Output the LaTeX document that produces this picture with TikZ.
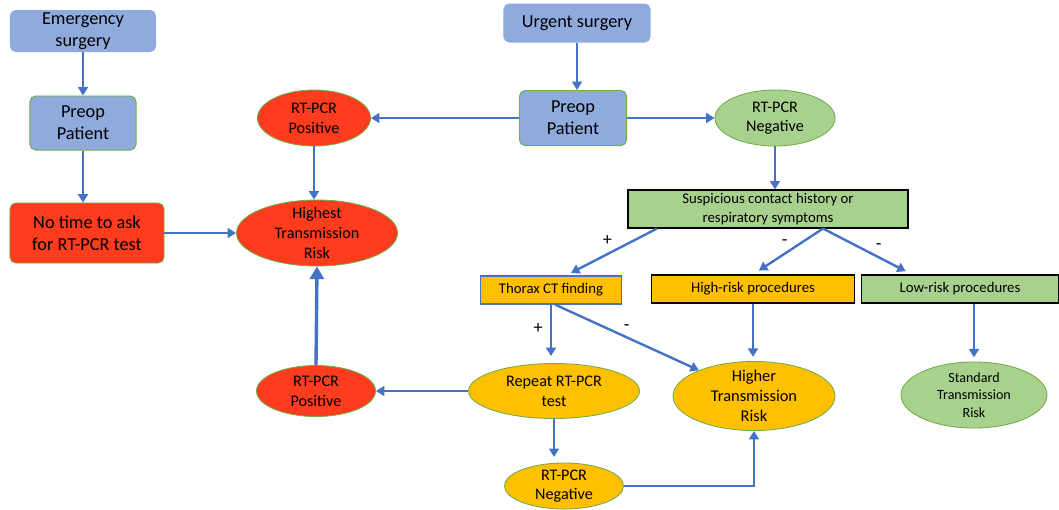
\documentclass[tikz,border=0pt]{standalone}
\usepackage{fontspec}
\setmainfont{Carlito}
\usetikzlibrary{arrows.meta, shapes.geometric, calc}

\definecolor{boxblue}{HTML}{8FAADC}
\definecolor{riskred}{HTML}{FF3C1E}
\definecolor{okgreen}{HTML}{A9D18E}
\definecolor{midorange}{HTML}{FFC000}
\definecolor{edgegreen}{HTML}{70AD47}
\definecolor{linkblue}{HTML}{4472C4}

\newcommand{\fontL}{\fontsize{13}{15.5}\selectfont}
\newcommand{\fontM}{\fontsize{11.5}{14}\selectfont}
\newcommand{\fontS}{\fontsize{10.5}{13}\selectfont}
\newcommand{\fontXS}{\fontsize{10}{12.4}\selectfont}

\begin{document}
\begin{tikzpicture}[
  x=0.025cm, y=-0.025cm,
  bluebox/.style={rectangle, rounded corners=4pt, fill=boxblue, align=center, inner sep=0pt, font=\fontL},
  preop/.style={bluebox, draw=edgegreen, line width=0.7pt},
  redbox/.style={rectangle, rounded corners=4pt, fill=riskred, draw=edgegreen, line width=0.5pt, align=center, inner sep=0pt, font=\fontL},
  oval/.style={ellipse, draw=edgegreen, line width=0.6pt, inner xsep=0pt, inner ysep=-6pt, align=center, font=\fontM},
  flat/.style={rectangle, draw=black, line width=0.8pt, inner sep=0pt, align=center, font=\fontS},
  arrow/.style={-{Triangle[length=6pt, width=7pt]}, draw=linkblue, line width=1.7pt},
  bigarrow/.style={-{Triangle[length=9pt, width=10pt]}, draw=linkblue, line width=2.4pt},
  sign/.style={font=\fontsize{13}{15}\selectfont, inner sep=2pt}
]
\useasboundingbox (0,0) rectangle (1059,509);

% emergency branch
\node[bluebox, minimum width=3.65cm, minimum height=1.05cm] (emerg) at (83,31) {Emergency\\surgery};
\node[preop, minimum width=2.65cm, minimum height=1.35cm] (preopL) at (83,123) {Preop\\Patient};
\node[redbox, minimum width=3.85cm, minimum height=1.5cm] (notime) at (87,233) {No time to ask\\for RT-PCR test};

% red risk side
\node[oval, fill=riskred, minimum width=2.825cm, minimum height=1.4cm] (posTop) at (314,118) {RT-PCR\\Positive};
\node[oval, fill=riskred, minimum width=4.025cm, minimum height=1.65cm] (highest) at (317,233) {Highest\\Transmission\\Risk};
\node[oval, fill=riskred, minimum width=2.975cm, minimum height=1.275cm] (posBot) at (316,391) {RT-PCR\\Positive};

% urgent branch
\node[bluebox, minimum width=3.675cm, minimum height=0.975cm] (urgent) at (577,23) {Urgent surgery};
\node[preop, minimum width=2.675cm, minimum height=1.375cm] (preopR) at (573,118) {Preop\\Patient};
\node[oval, fill=okgreen, minimum width=3cm, minimum height=1.4cm] (negTop) at (775,118) {RT-PCR\\Negative};
\node[flat, fill=okgreen, minimum width=7cm, minimum height=0.95cm] (susp) at (768,209) {Suspicious contact history or\\respiratory symptoms};

\node[flat, fill=midorange, draw=linkblue, minimum width=3.525cm, minimum height=0.7cm] (thorax) at (551,290) {Thorax CT finding};
\node[flat, fill=midorange, minimum width=5.075cm, minimum height=0.7cm] (highrisk) at (753,289) {High-risk procedures};
\node[flat, fill=okgreen, minimum width=4.925cm, minimum height=0.7cm] (lowrisk) at (960,289) {Low-risk procedures};

\node[oval, fill=midorange, minimum width=4.275cm, minimum height=1.375cm] (repeat) at (554,391) {Repeat RT-PCR\\test};
\node[oval, fill=midorange, minimum width=4.05cm, minimum height=1.725cm, font=\fontsize{11.7}{14.2}\selectfont] (higher) at (754,396) {Higher\\Transmission\\Risk};
\node[oval, fill=okgreen, minimum width=3.65cm, minimum height=1.65cm, font=\fontXS] (standard) at (974,395) {Standard\\Transmission\\Risk};
\node[oval, fill=midorange, minimum width=2.975cm, minimum height=1.15cm] (negBot) at (564,486) {RT-PCR\\Negative};

% connectors
\draw[arrow] (emerg) -- (preopL);
\draw[arrow] (preopL.south) -- (preopL.south |- notime.north);
\draw[arrow] (notime.east) -- (highest.west);
\draw[arrow] (preopR.west) -- (posTop.east);
\draw[arrow] (posTop.south) -- (posTop.south |- highest.north);
\draw[arrow] (urgent.south) -- (urgent.south |- preopR.north);
\draw[arrow] (preopR.east) -- (negTop.west);
\draw[arrow] (negTop.south) -- (negTop.south |- susp.north);

\draw[arrow, shorten >=4pt] (susp.190) -- ($(thorax.north)+(15,0)$) node[sign, pos=0.45, above left] {+};
\draw[arrow, shorten >=5pt] ($(susp.south)+(55,0)$) -- (highrisk.north) node[sign, pos=0.45, above left] {-};
\draw[arrow, shorten >=5pt] ($(susp.south)+(55,0)$) -- ($(lowrisk.north)+(-48,0)$) node[sign, pos=0.55, above right] {-};

\draw[arrow, shorten >=5pt] (thorax.south) -- (thorax.south |- repeat.north) node[sign, pos=0.4, left=3pt] {+};
\draw[arrow] ($(thorax.south)+(4,0)$) -- (higher.155) node[sign, pos=0.45, above right] {-};
\draw[arrow, shorten >=3pt] (highrisk.south) -- (highrisk.south |- higher.north);
\draw[arrow, shorten >=3pt] (standard.north |- lowrisk.south) -- (standard.north);

\draw[arrow] (repeat.west) -- (posBot.east);
\draw[bigarrow] (posBot.north) -- (highest.south);
\draw[arrow, shorten >=4pt] (repeat.south) -- (repeat.south |- negBot.north);
\draw[arrow] (negBot.east) -| (higher.south);

\end{tikzpicture}
\end{document}
